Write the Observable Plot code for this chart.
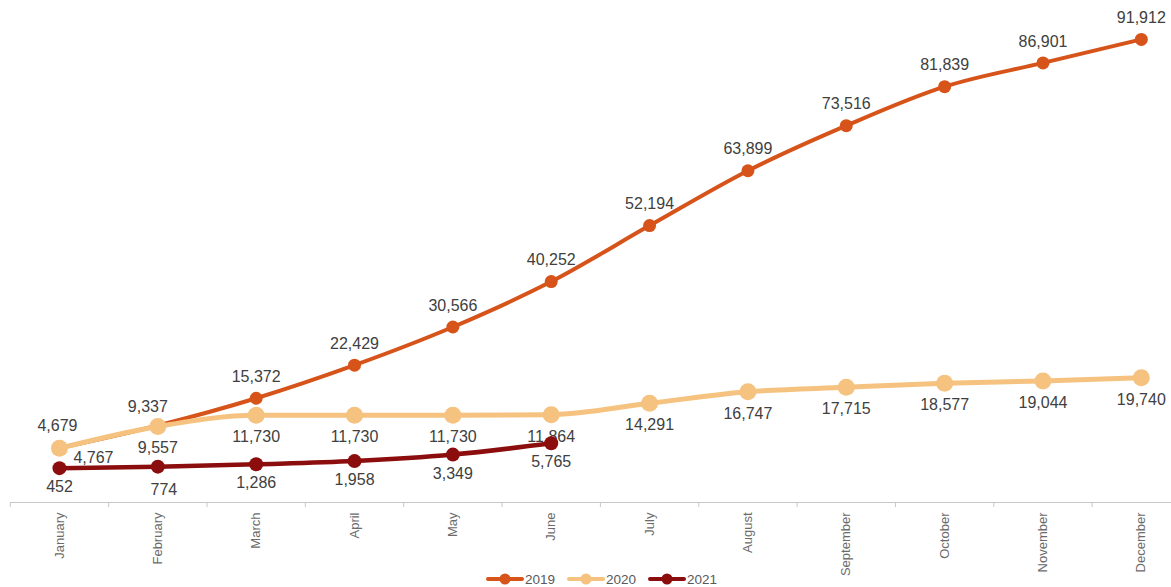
<!DOCTYPE html>
<html>
<head>
<meta charset="utf-8">
<script src="https://cdn.jsdelivr.net/npm/d3@7"></script>
<script src="https://cdn.jsdelivr.net/npm/@observablehq/plot@0.6"></script>
<style>
  html, body { margin: 0; padding: 0; background: #fff; }
  #wrap { position: relative; width: 1171px; height: 587px; overflow: hidden; font-family: "Liberation Sans", Arial, sans-serif; }
  #legend { position: absolute; top: 571px; left: 486px; display: flex; align-items: center; gap: 4px; font-size: 13.5px; color: #595959; }
  #legend .item { display: flex; align-items: center; margin-right: 8px; }
  #legend svg { display: block; margin-right: 1px; }
</style>
</head>
<body>
<div id="wrap"><div id="chart"></div><div id="legend"></div></div>
<script>
// ---- data ----
const months = ["January","February","March","April","May","June","July","August","September","October","November","December"];
const series = ["2019","2020","2021"];
const values2019 = [4767, 9557, 15372, 22429, 30566, 40252, 52194, 63899, 73516, 81839, 86901, 91912];
const values2020 = [4679, 9337, 11730, 11730, 11730, 11864, 14291, 16747, 17715, 18577, 19044, 19740];
const values2021 = [452, 774, 1286, 1958, 3349, 5765];
const colors = ["#D6531A", "#F5C27F", "#8C0D0D"];

// ---- styles (kept apart from data) ----
const style = {
  "2019": {sw: 4, r: 6.5, dy: -21.5},
  "2020": {sw: 5, r: 8.5, dy: 22},
  "2021": {sw: 4.5, r: 7, dy: 19}
};
const labelOverrides = {
  "2019|0": {dx: 34, dy: 9.5},
  "2019|1": {dx: 0, dy: 22},
  "2020|0": {dx: -2, dy: -22.5},
  "2020|1": {dx: -10, dy: -20},
  "2021|1": {dx: 6, dy: 23}
};

const allValues = [values2019, values2020, values2021];
const rows = series.flatMap((s, si) => allValues[si].map((v, i) => ({series: s, m: i, v})));
const fmt = d3.format(",");
const yDomain = [-6870, 100000];
const font = "Liberation Sans, Arial, sans-serif";

const marks = [
  Plot.ruleY([yDomain[0]], {stroke: "#c8c8c8", strokeWidth: 1}),
  Plot.axisX({ticks: d3.range(-0.5, 12, 1), tickFormat: () => "", tickSize: 5, stroke: "#c8c8c8", label: null}),
  Plot.axisX({ticks: d3.range(12), tickFormat: i => months[i], tickSize: 0, tickRotate: -90, tickPadding: 10,
              fontSize: 13, fill: "#6b6b6b", fontFamily: font, label: null})
];
series.forEach((s, si) => {
  const d = rows.filter(r => r.series === s);
  const st = style[s];
  marks.push(Plot.line(d, {x: "m", y: "v", stroke: colors[si], strokeWidth: st.sw, curve: "monotone-x"}));
  marks.push(Plot.dot(d, {x: "m", y: "v", r: st.r, fill: colors[si], stroke: "none"}));
  const normal = d.filter(r => !labelOverrides[s + "|" + r.m]);
  marks.push(Plot.text(normal, {x: "m", y: "v", text: r => fmt(r.v), dy: st.dy, fontSize: 16, fill: "#404040", fontFamily: font}));
  d.filter(r => labelOverrides[s + "|" + r.m]).forEach(r => {
    const o = labelOverrides[s + "|" + r.m];
    marks.push(Plot.text([r], {x: "m", y: "v", text: r => fmt(r.v), dx: o.dx, dy: o.dy, fontSize: 16, fill: "#404040", fontFamily: font}));
  });
});

const chart = Plot.plot({
  width: 1171,
  height: 565,
  marginTop: 1,
  marginBottom: 63,
  marginLeft: 10,
  marginRight: 0,
  style: {background: "transparent", overflow: "visible"},
  x: {type: "linear", domain: [-0.5, 11.5], range: [9.8, 1190], axis: null, label: null},
  y: {domain: yDomain, range: [502, 1], axis: null, label: null},
  marks
});
document.getElementById("chart").appendChild(chart);

// legend
const legend = d3.select("#legend");
series.forEach((s, si) => {
  const item = legend.append("div").attr("class", "item");
  const svg = item.append("svg").attr("width", 38).attr("height", 16);
  svg.append("line").attr("x1", 2).attr("x2", 36).attr("y1", 8).attr("y2", 8)
     .attr("stroke", colors[si]).attr("stroke-width", 4).attr("stroke-linecap", "round");
  svg.append("circle").attr("cx", 19).attr("cy", 8).attr("r", 5.5).attr("fill", colors[si]);
  item.append("span").text(s);
});
</script>
</body>
</html>
